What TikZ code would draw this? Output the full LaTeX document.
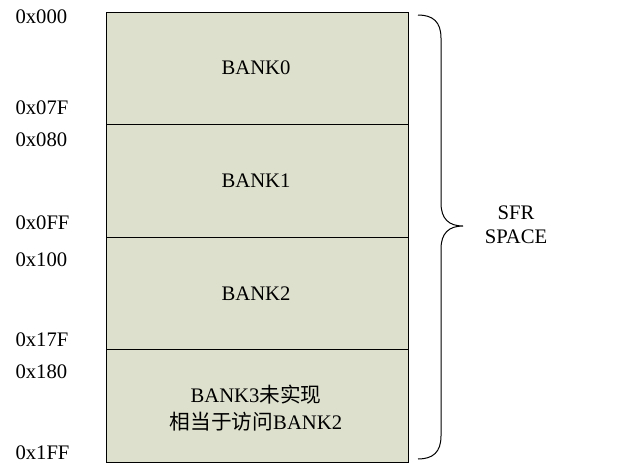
\documentclass[tikz,border=0pt]{standalone}
\usepackage{fontspec}
\setmainfont{Liberation Serif}
\newfontfamily\cjk{Noto Sans CJK SC}
\definecolor{bankfill}{RGB}{221,224,204}
\tikzset{every picture/.style={line width=0.75pt}}
\tikzset{addr/.style={anchor=west,inner sep=0.75pt,font=\fontsize{15.5}{18}\selectfont},
  banktxt/.style={inner sep=0.75pt,align=center,font=\fontsize{15.5}{20}\selectfont}}

\begin{document}
\begin{tikzpicture}[x=0.75pt,y=0.75pt,yscale=-1,xscale=1]
\useasboundingbox (0,0) rectangle (635,464);

%Shape: Rectangle [id:bank0]
\draw  [fill=bankfill] (106,12) -- (408,12) -- (408,124.5) -- (106,124.5) -- cycle ;
%Shape: Rectangle [id:bank1]
\draw  [fill=bankfill] (106,124.5) -- (408,124.5) -- (408,237) -- (106,237) -- cycle ;
%Shape: Rectangle [id:bank2]
\draw  [fill=bankfill] (106,237) -- (408,237) -- (408,349.5) -- (106,349.5) -- cycle ;
%Shape: Rectangle [id:bank3]
\draw  [fill=bankfill] (106,349.5) -- (408,349.5) -- (408,462) -- (106,462) -- cycle ;

%Shape: Brace [id:sfrbrace]
\draw   (418,15) .. controls (433,15) and (441,22) .. (441,38) -- (441,203) .. controls (441,219) and (449,226) .. (463,226) .. controls (449,226) and (441,233) .. (441,249) -- (441,436) .. controls (441,452) and (433,459) .. (418,459) ;

% Text Node
\node [addr] (a000) at (14,17) {0x000};
% Text Node
\node [addr] (a07f) at (14,108) {0x07F};
% Text Node
\node [addr] (a080) at (14,140) {0x080};
% Text Node
\node [addr] (a0ff) at (14,223) {0x0FF};
% Text Node
\node [addr] (a100) at (14,260) {0x100};
% Text Node
\node [addr] (a17f) at (14,340) {0x17F};
% Text Node
\node [addr] (a180) at (14,372) {0x180};
% Text Node
\node [addr] (a1ff) at (14,453) {0x1FF};

% Text Node
\node [banktxt] (b0) at (256,68) {BANK0};
% Text Node
\node [banktxt] (b1) at (256,181) {BANK1};
% Text Node
\node [banktxt] (b2) at (256,294) {BANK2};
% Text Node
\node [banktxt] (b3) at (256,408) {BANK3{\cjk 未实现}\\{\cjk 相当于访问}BANK2};
% Text Node
\node [banktxt,font=\fontsize{15.5}{18}\selectfont] (sfr) at (516,225) {SFR\\SPACE};

\end{tikzpicture}
\end{document}
